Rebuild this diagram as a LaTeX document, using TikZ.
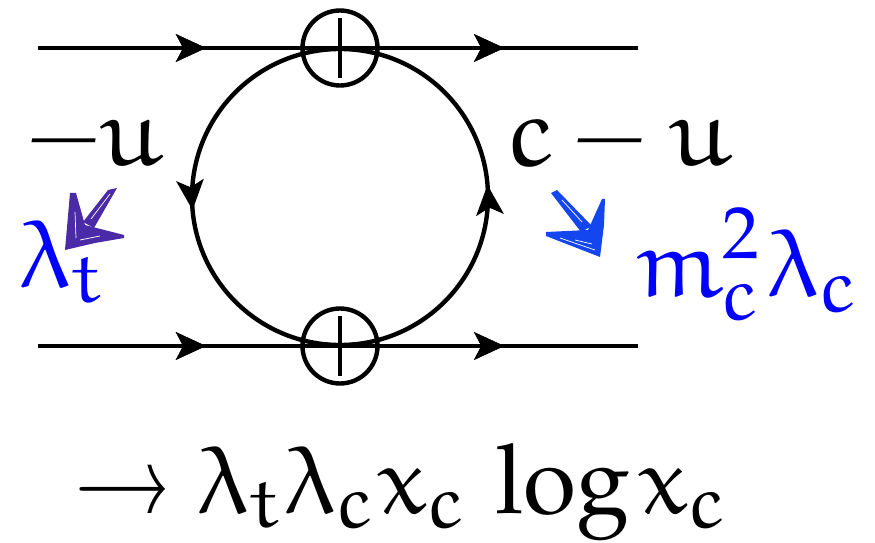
\documentclass[tikz,border=0pt]{standalone}
\usepackage{amsmath}
\renewcommand{\rmdefault}{ppl}
\usepackage{euler}
\usepackage{xcolor}
\usetikzlibrary{arrows.meta,decorations.markings}
\DeclareMathSizes{55}{55}{42}{32}
\definecolor{handpurple}{HTML}{4B2AA8}
\definecolor{handblue}{HTML}{1446F0}
\newcommand{\subfix}{\fontdimen5\textfont2=24pt \fontdimen16\textfont2=8.5pt \fontdimen17\textfont2=13pt \fontdimen13\textfont2=22pt \fontdimen14\textfont2=22pt \fontdimen15\textfont2=22pt }
\tikzset{
  prop/.style={line width=2.5pt},
  tip/.style={decoration={markings,mark=at position #1 with {\arrow{Stealth[length=17pt,width=15.5pt,inset=4pt]}}},postaction={decorate}},
  vert/.style={circle,draw,line width=2.5pt,minimum size=75*0.02cm,inner sep=0pt},
  lbl/.style={font=\fontsize{55}{60}\selectfont,inner sep=0pt,anchor=base west},
}
\begin{document}
\begin{tikzpicture}[x=0.02cm,y=-0.02cm]
\useasboundingbox (0,0) rectangle (875,543);
\coordinate (inA) at (38,48);
\coordinate (outA) at (638,48);
\coordinate (inB) at (38,346);
\coordinate (outB) at (638,346);
\coordinate (loopT) at (340,49);
\coordinate (loopB) at (340,345);
% the loop
\draw[prop,tip=0.528] (loopT) arc[start angle=270,end angle=90,radius=148];
\draw[prop,tip=0.526] (loopB) arc[start angle=90,end angle=-90,radius=148];
% upper and lower line
\draw[prop,tip=0.28,tip=0.777] (inA) -- (outA);
\draw[prop,tip=0.28,tip=0.777] (inB) -- (outB);
% crossed vertices
\node[vert] (top) at (340,48) {};
\node[vert] (bot) at (340,346) {};
\foreach \v in {top,bot} {
  \draw[line width=2.8pt] ([xshift=-17pt]\v.center) -- ([xshift=17pt]\v.center);
  \draw[line width=2pt] ([yshift=17pt]\v.center) -- ([yshift=-17pt]\v.center);
}
% labels
\node[lbl] (uL) at (27,166) {$-u$};
\node[lbl] (cR) at (508,166) {$c\hspace{5pt}-\hspace{7pt}u$};
\node[lbl,text=blue] (lamT) at (19,288) {$\subfix\lambda_t$};
\node[lbl,text=blue] (mLam) at (634,297) {$\subfix m_c^{\mathrm{2}}\hspace{4pt}\lambda_c$};
\node[lbl] (res) at (74,513) {$\subfix\rightarrow\hspace{8pt}\lambda_t\hspace{2pt}\lambda_c\hspace{2pt}x_c\hspace{13pt}\log\hspace{1pt}x_c$};
% hand drawn arrows
\fill[handpurple] (65,250) -- (70,193) -- (76,193) -- (85,225) -- (124,235) -- (124,238) -- (95,243) -- cycle;
\fill[handpurple] (83,222) -- (108,190) -- (117,188) -- (94,228) -- cycle;
\draw[white,line width=0.4pt] (76,238) -- (75,212);
\draw[white,line width=0.4pt] (80,240) -- (100,236);
\draw[white,line width=0.4pt] (91,219) -- (110,194);
\fill[handblue] (600,257) -- (546,236) -- (546,232) -- (588,230) -- (602,199) -- (605,199) -- (604,225) -- cycle;
\fill[handblue] (592,226) -- (557,190) -- (551,193) -- (581,232) -- cycle;
\draw[white,line width=0.4pt] (560,238) -- (595,250);
\draw[white,line width=0.4pt] (575,240) -- (592,244);
\draw[white,line width=0.4pt] (562,200) -- (582,222);
\end{tikzpicture}
\end{document}
